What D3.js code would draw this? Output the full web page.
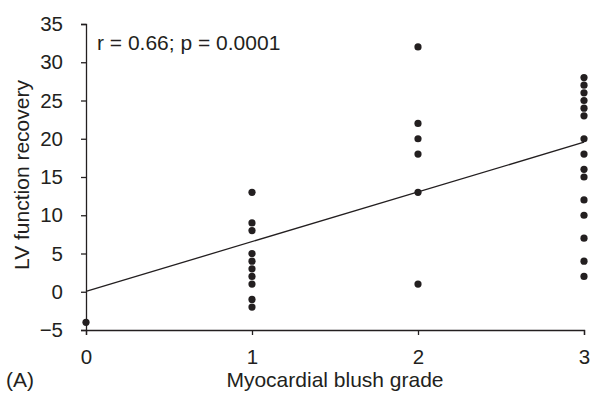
<!DOCTYPE html>
<html>
<head>
<meta charset="utf-8">
<script src="https://cdn.jsdelivr.net/npm/d3@7"></script>
<style>
  html, body { margin: 0; padding: 0; background: #fff; }
  svg { display: block; font-family: "Liberation Sans", Arial, Helvetica, sans-serif; }
</style>
</head>
<body>
<svg id="chart" width="593" height="396"></svg>
<script>
// ---- data ----
const grades = [0, 1, 2, 3];
const grade0Values = [-4];
const grade1Values = [13, 9, 8, 5, 4, 3, 2, 1, -1, -2];
const grade2Values = [32, 22, 20, 18, 13, 1];
const grade3Values = [28, 27, 26, 25, 24, 23, 20, 18, 16, 15, 12, 10, 7, 4, 2];
const yTicks = [-5, 0, 5, 10, 15, 20, 25, 30, 35];
const fitIntercept = 0.05;
const fitSlope = 6.5;
const annotation = "r = 0.66; p = 0.0001";
const xTitle = "Myocardial blush grade";
const yTitle = "LV function recovery";
const panelLabel = "(A)";

const points = [];
[grade0Values, grade1Values, grade2Values, grade3Values].forEach((vals, i) => {
  vals.forEach(v => points.push({ g: grades[i], v }));
});

// ---- layout ----
const ink = "#231f20";
const svg = d3.select("#chart");
const x = d3.scaleLinear().domain([0, 3]).range([86, 584]);
const y = d3.scaleLinear().domain([-5, 35]).range([330, 24]);

const fs = 21;
const tfs = 20.5;

// x axis
const xAxis = svg.append("g")
  .attr("transform", `translate(0,${y(-5)})`)
  .call(d3.axisBottom(x).tickValues(grades).tickFormat(d3.format("d")).tickSizeOuter(0).tickSize(5).tickPadding(14));
// y axis
const yAxis = svg.append("g")
  .attr("transform", `translate(${x(0)},0)`)
  .call(d3.axisLeft(y).tickValues(yTicks).tickSizeOuter(0).tickSize(5).tickPadding(18));

[xAxis, yAxis].forEach(a => {
  a.selectAll("path.domain").attr("stroke", ink).attr("stroke-width", 1.3);
  a.selectAll(".tick line").attr("stroke", ink).attr("stroke-width", 1.3);
  a.selectAll(".tick text").attr("fill", ink).attr("font-size", tfs).attr("font-family", "Liberation Sans, Arial, sans-serif");
});

// regression line
svg.append("line")
  .attr("x1", x(0)).attr("y1", y(fitIntercept))
  .attr("x2", x(3)).attr("y2", y(fitIntercept + fitSlope * 3))
  .attr("stroke", ink).attr("stroke-width", 1.3);

// points
svg.append("g").selectAll("circle").data(points).join("circle")
  .attr("cx", d => x(d.g)).attr("cy", d => y(d.v)).attr("r", 3.6)
  .attr("fill", ink);

// texts
svg.append("text").attr("x", 97).attr("y", 50).attr("font-size", fs).attr("fill", ink).text(annotation);
svg.append("text").attr("x", 335).attr("y", 387).attr("text-anchor", "middle").attr("font-size", fs).attr("fill", ink).text(xTitle);
svg.append("text").attr("x", 6).attr("y", 387).attr("font-size", fs).attr("fill", ink).text(panelLabel);
svg.append("text").attr("transform", `translate(29,175) rotate(-90)`).attr("text-anchor", "middle").attr("font-size", fs).attr("fill", ink).text(yTitle);
</script>
</body>
</html>
